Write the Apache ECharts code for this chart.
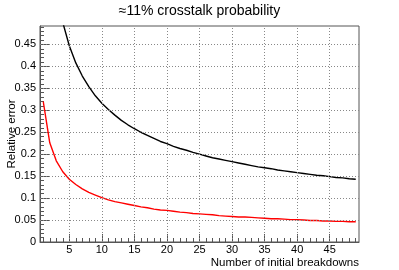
<!DOCTYPE html>
<html>
<head>
<meta charset="utf-8">
<script src="https://cdn.jsdelivr.net/npm/echarts@6/dist/echarts.min.js"></script>
<style>html,body{margin:0;padding:0;background:#fff}#c{width:399px;height:270px}</style>
</head>
<body>
<div id="c"></div>
<script>
const titleText = '\u224811% crosstalk probability';
const xName = 'Number of initial breakdowns';
const yName = 'Relative error';
const nValues = [1,2,3,4,5,6,7,8,9,10,11,12,13,14,15,16,17,18,19,20,21,22,23,24,25,26,27,28,29,30,31,32,33,34,35,36,37,38,39,40,41,42,43,44,45,46,47,48,49];
const blackValues = [1.0,0.707,0.577,0.5,0.447,0.408,0.378,0.354,0.333,0.316,0.302,0.289,0.277,0.267,0.258,0.25,0.243,0.236,0.229,0.224,0.218,0.213,0.209,0.204,0.2,0.196,0.192,0.189,0.186,0.183,0.18,0.177,0.174,0.171,0.169,0.167,0.164,0.162,0.16,0.158,0.156,0.154,0.152,0.151,0.149,0.147,0.146,0.144,0.143];
const redValues = [0.32,0.226,0.185,0.16,0.143,0.131,0.121,0.113,0.107,0.101,0.096,0.092,0.089,0.086,0.083,0.08,0.078,0.075,0.073,0.072,0.07,0.068,0.067,0.065,0.064,0.063,0.062,0.06,0.059,0.058,0.057,0.057,0.056,0.055,0.054,0.053,0.053,0.052,0.051,0.051,0.05,0.049,0.049,0.048,0.048,0.047,0.047,0.046,0.046];
const xMajorTicks = [5,10,15,20,25,30,35,40,45];
const xMinorTicks = [1,2,3,4,5,6,7,8,9,10,11,12,13,14,15,16,17,18,19,20,21,22,23,24,25,26,27,28,29,30,31,32,33,34,35,36,37,38,39,40,41,42,43,44,45,46,47,48,49];
const yMajorTicks = [0,0.05,0.1,0.15,0.2,0.25,0.3,0.35,0.4,0.45];
const yMinorTicks = [0.01,0.02,0.03,0.04,0.06,0.07,0.08,0.09,0.11,0.12,0.13,0.14,0.16,0.17,0.18,0.19,0.21,0.22,0.23,0.24,0.26,0.27,0.28,0.29,0.31,0.32,0.33,0.34,0.36,0.37,0.38,0.39,0.41,0.42,0.43,0.44,0.46,0.47,0.48,0.49];

const FONT = 'Liberation Sans, Arial, Helvetica, sans-serif';
const chart = echarts.init(document.getElementById('c'), null, {renderer: 'canvas'});
const xMin = 0.5, xMax = 49.5, yMin = 0, yMax = 0.492;
const gridLines = xMajorTicks.map(v => ({xAxis: v}))
  .concat(yMajorTicks.filter(v => v > 0).map(v => ({yAxis: v})));
chart.setOption({
  animation: false,
  backgroundColor: '#fff',
  title: {
    text: titleText, left: 'center', top: -1,
    textStyle: {fontFamily: FONT, fontSize: 14, fontWeight: 'normal', color: '#000'}
  },
  grid: {left: 40, right: 40, top: 26, bottom: 28, show: true, borderColor: '#555', borderWidth: 1,
         containLabel: false, outerBoundsMode: 'none'},
  xAxis: [{
    type: 'value', min: xMin, max: xMax, position: 'bottom',
    name: xName, nameLocation: 'end', nameGap: 0, nameMoveOverlap: false,
    nameTextStyle: {fontFamily: FONT, fontSize: 11.5, color: '#000', align: 'right', verticalAlign: 'top', padding: [15, 0, 0, 0]},
    axisLine: {show: true, lineStyle: {color: '#555', width: 1}},
    axisTick: {show: true, inside: true, length: 8, customValues: xMajorTicks, lineStyle: {color: '#555'}},
    axisLabel: {show: true, customValues: xMajorTicks, fontFamily: FONT, fontSize: 11, color: '#000', margin: 2},
    splitLine: {show: false},
    minorSplitLine: {show: false}
  }, {
    type: 'value', min: xMin, max: xMax, position: 'bottom',
    axisLine: {show: false}, axisLabel: {show: false},
    splitLine: {show: false}, minorSplitLine: {show: false},
    axisTick: {show: true, inside: true, length: 4, customValues: xMinorTicks, lineStyle: {color: '#555'}}
  }],
  yAxis: [{
    type: 'value', min: yMin, max: yMax, position: 'left',
    name: yName, nameLocation: 'middle', nameRotate: 90, nameGap: 22, nameMoveOverlap: false,
    nameTextStyle: {fontFamily: FONT, fontSize: 11.5, color: '#000'},
    axisLine: {show: true, lineStyle: {color: '#555', width: 1}},
    axisTick: {show: true, inside: true, length: 9, customValues: yMajorTicks, lineStyle: {color: '#555'}},
    axisLabel: {show: true, customValues: yMajorTicks, fontFamily: FONT, fontSize: 11, color: '#000', margin: 4},
    splitLine: {show: false},
    minorSplitLine: {show: false}
  }, {
    type: 'value', min: yMin, max: yMax, position: 'left',
    axisLine: {show: false}, axisLabel: {show: false},
    splitLine: {show: false}, minorSplitLine: {show: false},
    axisTick: {show: true, inside: true, length: 4, customValues: yMinorTicks, lineStyle: {color: '#555'}}
  }],
  series: [{
    type: 'line', name: 'grid', xAxisIndex: 0, yAxisIndex: 0,
    data: [], silent: true, z: 1,
    markLine: {
      silent: true, symbol: ['none', 'none'], animation: false,
      label: {show: false},
      lineStyle: {type: [1, 2], color: '#888', width: 1},
      emphasis: {disabled: true},
      data: gridLines
    }
  }, {
    type: 'line', name: 'black', xAxisIndex: 0, yAxisIndex: 0,
    data: nValues.map((n, i) => [n, blackValues[i]]),
    showSymbol: false, clip: true, z: 3,
    lineStyle: {color: '#000', width: 1.4}
  }, {
    type: 'line', name: 'red', xAxisIndex: 0, yAxisIndex: 0,
    data: nValues.map((n, i) => [n, redValues[i]]),
    showSymbol: false, clip: true, z: 3,
    lineStyle: {color: '#ff0000', width: 1.4}
  }]
});
</script>
</body>
</html>
